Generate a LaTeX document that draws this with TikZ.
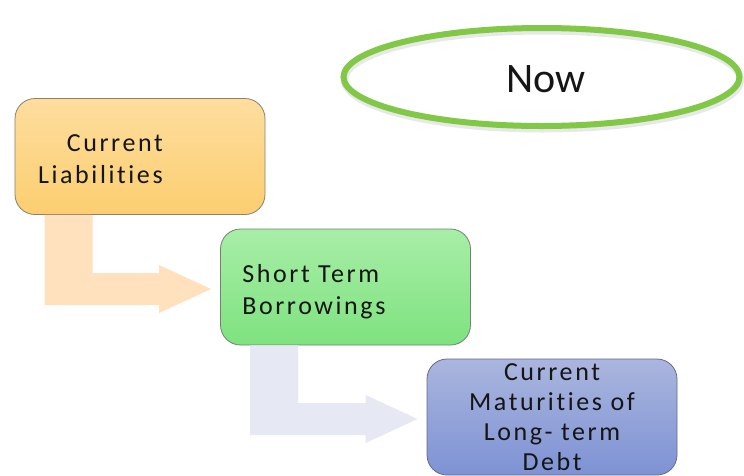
\documentclass[tikz,border=0pt]{standalone}
\usepackage{fontspec}
\setmainfont[Ligatures=CommonOff]{Carlito}
\usetikzlibrary{calc,shapes.geometric}
\definecolor{ink}{HTML}{151515}
\definecolor{ringgreen}{RGB}{128,200,70}
\definecolor{liabtop}{RGB}{254,221,158}
\definecolor{liabbot}{RGB}{251,206,112}
\definecolor{liabrim}{RGB}{140,128,110}
\definecolor{borrtop}{RGB}{168,238,168}
\definecolor{borrbot}{RGB}{126,226,126}
\definecolor{borrrim}{RGB}{112,132,112}
\definecolor{matutop}{RGB}{170,182,222}
\definecolor{matubot}{RGB}{126,146,212}
\definecolor{maturim}{RGB}{100,108,136}
\definecolor{peach}{RGB}{255,225,190}
\definecolor{mist}{RGB}{230,233,243}
\tikzset{
  box/.style={line width=0.8pt, rounded corners=20pt, minimum width=250pt,
    minimum height=116pt, inner sep=0pt},
  boxtext/.style={text=ink, inner sep=0pt,
    font=\fontsize{26}{32}\selectfont\addfontfeatures{LetterSpace=10}},
  ring/.style={ellipse, draw=ringgreen, line width=6pt, minimum width=396pt,
    minimum height=98pt, inner sep=0pt},
  ringshade/.style={draw=black, opacity=0.09, line width=7pt},
  nowtext/.style={text=ink, inner sep=0pt, font=\fontsize{42}{50}\selectfont},
}

% bent arrow: down from the foot of one box, then right into the next
\newcommand{\bentarrow}[3]{%
  \fill[#3] ($(#1.south west)+(30,0)$) -- ++(48,0)
    |- ($(#2.west)+(-61,-14)$) -- ++(0,-8) -- ($(#2.west)+(-9,2)$)
    -- ++(-52,24) -- ++(0,-8) -| ($(#1.south west)+(30,0)$) -- cycle;}

\begin{document}
\begin{tikzpicture}[x=1pt, y=-1pt]
  \fill[white] (0,0) rectangle (744,475);
  \useasboundingbox (0,0) rectangle (744,475);

  % the "Now" ring
  \draw[ringshade] (542.5,80) ellipse [x radius=198pt, y radius=49pt];
  \node[ring] (now) at (541.5,77) {};
  \node[nowtext] (now-text) at (546,79) {Now};

  % the three boxes
  \node[box, draw=liabrim, top color=liabtop, bottom color=liabbot] (liab) at (140,156.5) {};
  \node[box, draw=borrrim, top color=borrtop, bottom color=borrbot] (borrow) at (345.5,287) {};
  \node[box, draw=maturim, top color=matutop, bottom color=matubot,
    boxtext, font=\fontsize{26}{30}\selectfont\addfontfeatures{LetterSpace=10},
    align=center] (matur) at (552,417) {Current\\Maturities of\\Long- term\\Debt};

  \node[boxtext, align=right, anchor=east] (liab-text) at ($(liab.center)+(23,3)$) {Current\\Liabilities};
  \node[boxtext, align=left, anchor=west] (borrow-text) at ($(borrow.west)+(22,5)$) {Short Term\\Borrowings};

  % arrows between them
  \bentarrow{liab}{borrow}{peach}
  \bentarrow{borrow}{matur}{mist}
\end{tikzpicture}
\end{document}
